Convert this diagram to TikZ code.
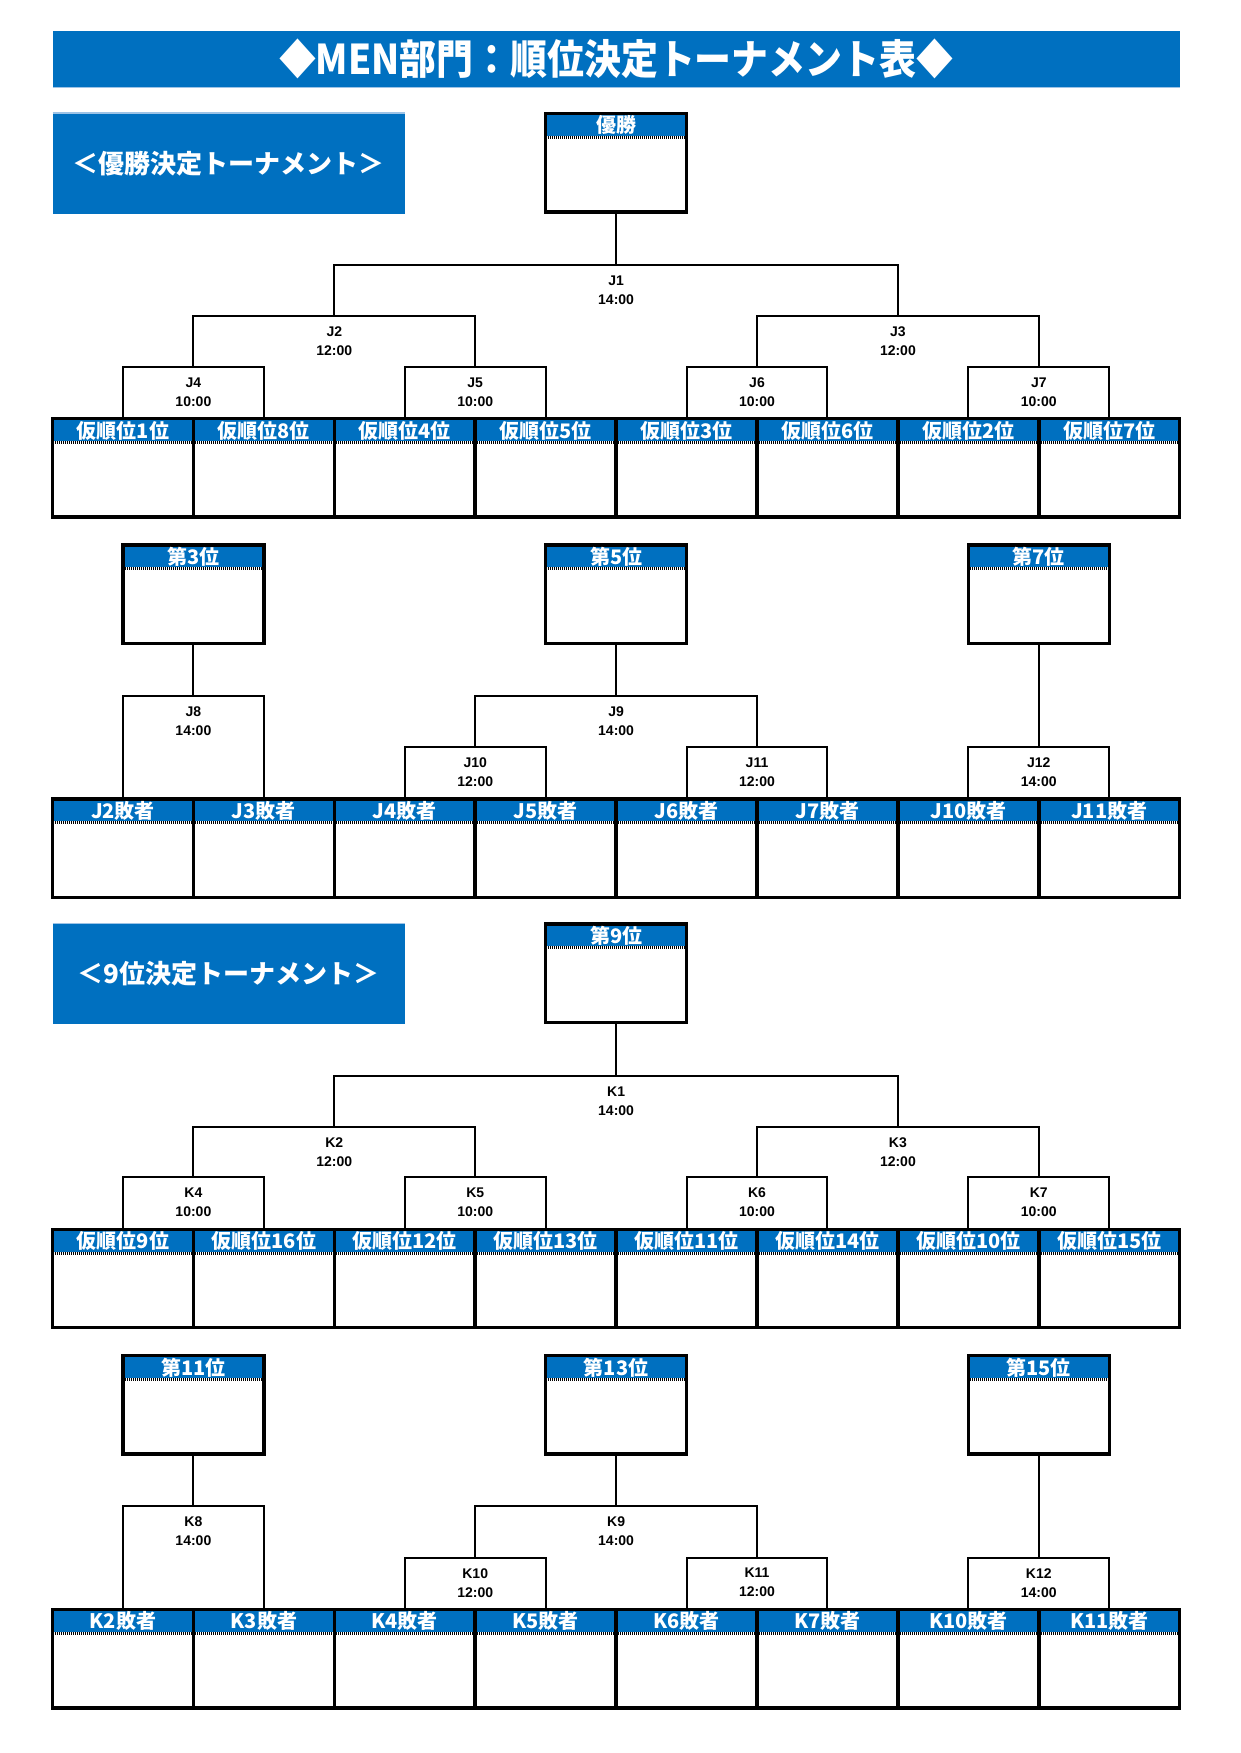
\documentclass[tikz,border=0pt]{standalone}
\usepackage{fontspec}
\setmainfont{Liberation Sans}
\newfontfamily\jpf{Noto Sans CJK JP}
\definecolor{hdrblue}{HTML}{0070C0}
\definecolor{edgeblue}{HTML}{9DC3E6}
\tikzset{
 slotbox/.style={draw, line width=3.5pt, fill=white, inner sep=0pt, outer sep=0pt,
   minimum width=140.9pt, minimum height=98.4pt, anchor=north,
   path picture={
     \fill[hdrblue] (path picture bounding box.north west) rectangle ([yshift=-22.3pt]path picture bounding box.north east);
     \draw[line width=3pt, dash pattern=on 1pt off 1pt] ([yshift=-23.8pt]path picture bounding box.north west) -- ([yshift=-23.8pt]path picture bounding box.north east);
   }},
 hdr/.style={text=white, font=\jpf\bfseries\fontsize{20}{20}\selectfont, inner sep=0pt},
 mlabel/.style={align=center, font=\bfseries\fontsize{14}{19}\selectfont, inner sep=0pt},
 conn/.style={line width=2pt},
 bluebar/.style={fill=hdrblue, inner sep=0pt, outer sep=0pt, anchor=north west},
 bartext/.style={text=white, inner sep=0pt}
}
% #1 y offset, #2 prefix, #3 top row labels, #4 lower row labels, #5 winner, #6 third, #7 fifth, #8 seventh, #9 subtitle
\newcommand\tourn[9]{%
 \node[bluebar, minimum width=352.3pt, minimum height=100.6pt] (#2sub) at (52.5,{113+#1}) {};
 \draw[edgeblue, line width=1.2pt] (#2sub.north west) -- (#2sub.north east);
 \node[bartext, font=\jpf\bfseries\fontsize{26}{26}\selectfont] (#2subt) at (#2sub.center) {#9};
 % winner
 \node[slotbox] (#2win) at (616.1,{113.5+#1}) {};
 \node[hdr] (#2winh) at ([yshift=-11.8pt]#2win.north) {#5};
 % top row
 \foreach \lab [count=\i] in {#3} {
   \node[slotbox] (#2a\i) at ({52.5+140.9*(\i-0.5)},{418.7+#1}) {};
   \node[hdr] (#2ah\i) at ([yshift=-11.8pt]#2a\i.north) {\lab};
 }
 % places
 \node[slotbox] (#2third) at (193.4,{545+#1}) {};
 \node[hdr] (#2thirdh) at ([yshift=-11.8pt]#2third.north) {#6};
 \node[slotbox] (#2fifth) at (616.1,{545+#1}) {};
 \node[hdr] (#2fifthh) at ([yshift=-11.8pt]#2fifth.north) {#7};
 \node[slotbox] (#2seventh) at (1038.8,{545+#1}) {};
 \node[hdr] (#2seventhh) at ([yshift=-11.8pt]#2seventh.north) {#8};
 % lower row
 \foreach \lab [count=\i] in {#4} {
   \node[slotbox] (#2b\i) at ({52.5+140.9*(\i-0.5)},{798.9+#1}) {};
   \node[hdr] (#2bh\i) at ([yshift=-11.8pt]#2b\i.north) {\lab};
 }
 % match points
 \coordinate (#2m1) at (616.1,{265+#1});
 \coordinate (#2m2) at (334.3,{316.4+#1});
 \coordinate (#2m3) at (897.9,{316.4+#1});
 \coordinate (#2m4) at (193.4,{366.7+#1});
 \coordinate (#2m5) at (475.2,{366.7+#1});
 \coordinate (#2m6) at (757,{366.7+#1});
 \coordinate (#2m7) at (1038.8,{366.7+#1});
 \coordinate (#2m8) at (193.4,{695.5+#1});
 \coordinate (#2m9) at (616.1,{695.5+#1});
 \coordinate (#2m10) at (475.2,{746.9+#1});
 \coordinate (#2m11) at (757,{746.9+#1});
 \coordinate (#2m12) at (1038.8,{746.9+#1});
 % connectors
 \draw[conn] (#2a1.north) |- (#2m4) -| (#2a2.north);
 \draw[conn] (#2a3.north) |- (#2m5) -| (#2a4.north);
 \draw[conn] (#2a5.north) |- (#2m6) -| (#2a6.north);
 \draw[conn] (#2a7.north) |- (#2m7) -| (#2a8.north);
 \draw[conn] (#2m4) |- (#2m2) -| (#2m5);
 \draw[conn] (#2m6) |- (#2m3) -| (#2m7);
 \draw[conn] (#2m2) |- (#2m1) -| (#2m3);
 \draw[conn] (#2m1) -- (#2win.south);
 \draw[conn] (#2b1.north) |- (#2m8) -| (#2b2.north);
 \draw[conn] (#2m8) -- (#2third.south);
 \draw[conn] (#2b3.north) |- (#2m10) -| (#2b4.north);
 \draw[conn] (#2b5.north) |- (#2m11) -| (#2b6.north);
 \draw[conn] (#2m10) |- (#2m9) -| (#2m11);
 \draw[conn] (#2m9) -- (#2fifth.south);
 \draw[conn] (#2b7.north) |- (#2m12) -| (#2b8.north);
 \draw[conn] (#2m12) -- (#2seventh.south);
 % labels
 \node[mlabel] (#2l1) at ([yshift=-25.2pt]#2m1) {#21\\14:00};
 \node[mlabel] (#2l2) at ([yshift=-25.2pt]#2m2) {#22\\12:00};
 \node[mlabel] (#2l3) at ([yshift=-25.2pt]#2m3) {#23\\12:00};
 \node[mlabel] (#2l4) at ([yshift=-25.2pt]#2m4) {#24\\10:00};
 \node[mlabel] (#2l5) at ([yshift=-25.2pt]#2m5) {#25\\10:00};
 \node[mlabel] (#2l6) at ([yshift=-25.2pt]#2m6) {#26\\10:00};
 \node[mlabel] (#2l7) at ([yshift=-25.2pt]#2m7) {#27\\10:00};
 \node[mlabel] (#2l8) at ([yshift=-25.2pt]#2m8) {#28\\14:00};
 \node[mlabel] (#2l9) at ([yshift=-25.2pt]#2m9) {#29\\14:00};
 \node[mlabel] (#2l10) at ([yshift=-25.2pt]#2m10) {#210\\12:00};
 \node[mlabel] (#2l11) at ([yshift=-25.2pt]#2m11) {#211\\12:00};
 \node[mlabel] (#2l12) at ([yshift=-25.2pt]#2m12) {#212\\14:00};
}
\begin{document}
\begin{tikzpicture}[x=1pt,y=-1pt]
\useasboundingbox (0,0) rectangle (1240,1753);
\fill[white] (0,0) rectangle (1240,1753);
\node[bluebar, minimum width=1127.2pt, minimum height=55.9pt] (title) at (52.5,31.3) {};
\draw[edgeblue, line width=1.2pt] (title.south west) -- (title.south east);
\node[bartext, font=\jpf\bfseries\fontsize{41}{41}\selectfont, xscale=0.9, transform shape] (titlet) at (title.center) {◆MEN部門：順位決定トーナメント表◆};
\tourn{0}{J}{仮順位1位,仮順位8位,仮順位4位,仮順位5位,仮順位3位,仮順位6位,仮順位2位,仮順位7位}{J2敗者,J3敗者,J4敗者,J5敗者,J6敗者,J7敗者,J10敗者,J11敗者}{優勝}{第3位}{第5位}{第7位}{＜優勝決定トーナメント＞}
\tourn{810.6}{K}{仮順位9位,仮順位16位,仮順位12位,仮順位13位,仮順位11位,仮順位14位,仮順位10位,仮順位15位}{K2敗者,K3敗者,K4敗者,K5敗者,K6敗者,K7敗者,K10敗者,K11敗者}{第9位}{第11位}{第13位}{第15位}{＜9位決定トーナメント＞}
\end{tikzpicture}
\end{document}
